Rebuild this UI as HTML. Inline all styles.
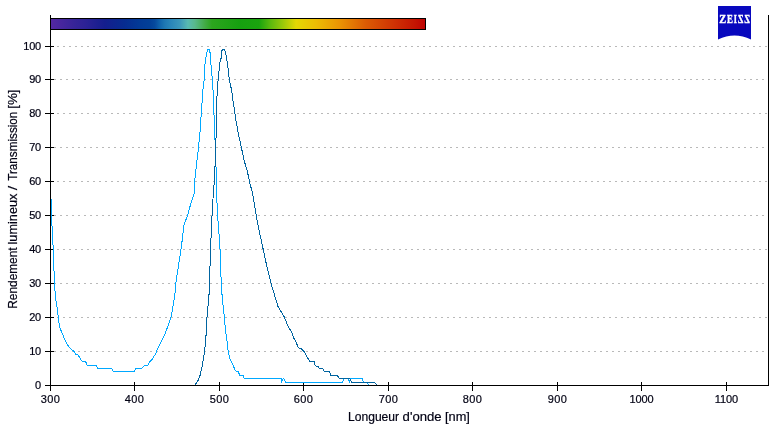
<!DOCTYPE html>
<html><head><meta charset="utf-8"><title>Chart</title>
<style>
html,body{margin:0;padding:0;background:#fff;}
body{width:783px;height:426px;overflow:hidden;position:relative;font-family:"Liberation Sans",sans-serif;}
</style></head><body>
<svg width="783" height="426" viewBox="0 0 783 426" style="position:absolute;left:0;top:0;will-change:transform">
<defs><linearGradient id="sp" x1="0" y1="0" x2="1" y2="0"><stop offset="0.00%" stop-color="rgb(84, 40, 162)"/><stop offset="6.42%" stop-color="rgb(54, 36, 152)"/><stop offset="9.36%" stop-color="rgb(44, 34, 150)"/><stop offset="14.44%" stop-color="rgb(20, 30, 142)"/><stop offset="19.79%" stop-color="rgb(6, 44, 144)"/><stop offset="23.80%" stop-color="rgb(2, 58, 150)"/><stop offset="26.47%" stop-color="rgb(2, 64, 152)"/><stop offset="27.81%" stop-color="rgb(6, 74, 158)"/><stop offset="29.14%" stop-color="rgb(16, 100, 172)"/><stop offset="30.48%" stop-color="rgb(30, 120, 180)"/><stop offset="31.82%" stop-color="rgb(40, 132, 184)"/><stop offset="34.49%" stop-color="rgb(60, 152, 186)"/><stop offset="36.63%" stop-color="rgb(88, 186, 178)"/><stop offset="38.50%" stop-color="rgb(88, 184, 140)"/><stop offset="41.18%" stop-color="rgb(66, 170, 70)"/><stop offset="43.05%" stop-color="rgb(44, 164, 30)"/><stop offset="50.53%" stop-color="rgb(22, 160, 16)"/><stop offset="55.61%" stop-color="rgb(26, 164, 14)"/><stop offset="58.56%" stop-color="rgb(90, 185, 14)"/><stop offset="61.76%" stop-color="rgb(150, 200, 10)"/><stop offset="65.51%" stop-color="rgb(228, 216, 4)"/><stop offset="70.86%" stop-color="rgb(236, 188, 4)"/><stop offset="77.27%" stop-color="rgb(234, 146, 4)"/><stop offset="83.96%" stop-color="rgb(220, 92, 4)"/><stop offset="91.98%" stop-color="rgb(206, 48, 4)"/><stop offset="97.33%" stop-color="rgb(196, 20, 2)"/><stop offset="99.73%" stop-color="rgb(190, 4, 2)"/></linearGradient></defs>
<rect width="783" height="426" fill="#fff"/>
<g stroke="#b9b9b9" stroke-width="1" stroke-dasharray="2 4" shape-rendering="crispEdges"><line x1="57" y1="46.5" x2="768" y2="46.5"/><line x1="54" y1="79.5" x2="768" y2="79.5"/><line x1="57" y1="113.5" x2="768" y2="113.5"/><line x1="54" y1="147.5" x2="768" y2="147.5"/><line x1="57" y1="181.5" x2="768" y2="181.5"/><line x1="54" y1="215.5" x2="768" y2="215.5"/><line x1="57" y1="249.5" x2="768" y2="249.5"/><line x1="54" y1="283.5" x2="768" y2="283.5"/><line x1="57" y1="317.5" x2="768" y2="317.5"/><line x1="54" y1="351.5" x2="768" y2="351.5"/></g>
<rect x="50.5" y="18.5" width="375" height="11" fill="url(#sp)" stroke="#000" stroke-width="1" stroke-linejoin="bevel" shape-rendering="crispEdges"/>
<g stroke="#000" stroke-width="1" shape-rendering="crispEdges"><line x1="50.5" y1="15" x2="50.5" y2="391"/><line x1="768.5" y1="15" x2="768.5" y2="386"/><line x1="45" y1="385.5" x2="769" y2="385.5"/><line x1="45" y1="351.5" x2="54" y2="351.5"/><line x1="45" y1="317.5" x2="54" y2="317.5"/><line x1="45" y1="283.5" x2="54" y2="283.5"/><line x1="45" y1="249.5" x2="54" y2="249.5"/><line x1="45" y1="215.5" x2="54" y2="215.5"/><line x1="45" y1="181.5" x2="54" y2="181.5"/><line x1="45" y1="147.5" x2="54" y2="147.5"/><line x1="45" y1="113.5" x2="54" y2="113.5"/><line x1="45" y1="79.5" x2="54" y2="79.5"/><line x1="45" y1="46.5" x2="54" y2="46.5"/><line x1="134.5" y1="382" x2="134.5" y2="391"/><line x1="219.5" y1="382" x2="219.5" y2="391"/><line x1="303.5" y1="382" x2="303.5" y2="391"/><line x1="388.5" y1="382" x2="388.5" y2="391"/><line x1="472.5" y1="382" x2="472.5" y2="391"/><line x1="557.5" y1="382" x2="557.5" y2="391"/><line x1="641.5" y1="382" x2="641.5" y2="391"/><line x1="726.5" y1="382" x2="726.5" y2="391"/></g>
<polyline points="50.5,199.0 51.5,199.0 51.5,226.0 52.5,226.0 52.5,237.0 53.3,249.4 54.4,283.3 55.8,300.0 56.7,305.0 58.3,317.3 59.4,326.4 61.9,332.8 65.5,341.2 69.3,347.6 74.2,351.5 75.7,354.5 77.8,354.5 80.9,359.6 82.6,361.5 85.6,361.5 87.3,365.5 96.4,365.5 97.9,368.5 111.6,368.5 113.3,371.5 134.2,371.5 135.9,368.5 141.7,368.5 144.6,365.5 147.6,365.5 150.0,361.5 152.3,359.2 155.8,353.4 157.0,349.9 160.5,342.8 165.2,333.4 168.7,324.0 171.1,317.0 173.4,304.0 175.4,290.0 175.8,283.2 178.2,267.5 181.0,249.2 182.6,237.0 183.6,226.4 187.6,215.1 191.4,201.7 194.2,193.5 194.6,181.6 196.3,166.3 198.5,147.6 200.0,132.5 201.0,117.5 201.5,110.0 203.0,89.3 204.2,79.9 205.0,64.6 206.3,54.8 207.5,49.5 209.5,49.5 210.4,54.8 211.2,67.9 212.4,79.9 213.4,95.9 213.8,110.0 214.7,132.5 215.4,147.6 216.0,166.3 216.4,190.0 217.6,215.0 219.2,237.0 220.0,249.0 221.1,279.0 221.6,290.0 222.7,301.7 224.4,317.5 225.4,330.0 227.0,341.3 228.2,351.1 229.6,358.2 232.7,364.5 235.5,370.8 238.3,371.5 239.7,375.5 243.2,375.5 244.2,378.5 280.5,378.5 281.5,378.5 281.5,382.5 282.5,380.0 283.5,378.5 284.5,380.0 285.5,382.5 342.5,382.5 343.6,378.5 348.5,378.5 349.5,382.5 350.7,378.5 362.0,378.5 363.6,382.5 367.0,382.5 368.6,384.9" fill="none" stroke="#00a8ff" stroke-width="1" stroke-linejoin="bevel" shape-rendering="crispEdges"/>
<polyline points="195.0,384.9 198.1,380.4 200.4,374.5 202.8,362.8 204.6,351.5 206.3,332.3 207.0,317.5 208.2,304.0 209.4,290.0 209.6,279.0 210.6,249.0 211.5,225.0 212.7,204.0 213.5,190.0 214.3,181.6 215.1,164.5 215.6,147.6 216.2,134.4 216.4,110.0 217.0,95.9 218.1,79.9 219.6,64.6 220.5,60.0 221.5,57.0 221.5,51.5 222.5,49.5 224.6,49.5 226.0,54.8 227.6,64.6 229.3,79.9 231.8,90.9 233.4,104.0 234.5,110.0 235.7,119.4 238.5,134.4 241.4,147.6 244.2,160.7 247.5,172.0 249.5,181.6 252.8,194.4 256.2,215.5 259.4,232.0 263.2,249.3 266.3,263.8 271.0,283.3 275.0,296.6 278.0,306.5 284.3,317.1 287.9,326.0 292.5,333.5 293.2,337.0 296.0,342.0 298.2,347.6 301.0,348.6 303.8,351.1 307.3,357.5 310.1,361.5 314.1,361.5 315.1,365.5 318.6,366.9 319.3,368.5 322.6,368.5 324.3,371.5 329.6,371.5 330.9,375.5 337.5,375.5 339.2,378.5 349.8,378.5 351.5,382.5 374.8,382.5 376.8,384.9" fill="none" stroke="#0064a0" stroke-width="1" stroke-linejoin="bevel" shape-rendering="crispEdges"/>
<g font-family="Liberation Sans, sans-serif" font-size="11px" fill="#020214" stroke="#020214" stroke-width="0.2"><text x="40.9" y="388.5" text-anchor="end" letter-spacing="-0.25">0</text><text x="40.9" y="354.5" text-anchor="end" letter-spacing="-0.25">10</text><text x="40.9" y="320.5" text-anchor="end" letter-spacing="-0.25">20</text><text x="40.9" y="286.5" text-anchor="end" letter-spacing="-0.25">30</text><text x="40.9" y="252.5" text-anchor="end" letter-spacing="-0.25">40</text><text x="40.9" y="218.5" text-anchor="end" letter-spacing="-0.25">50</text><text x="40.9" y="184.5" text-anchor="end" letter-spacing="-0.25">60</text><text x="40.9" y="150.5" text-anchor="end" letter-spacing="-0.25">70</text><text x="40.9" y="116.5" text-anchor="end" letter-spacing="-0.25">80</text><text x="40.9" y="82.5" text-anchor="end" letter-spacing="-0.25">90</text><text x="40.9" y="49.5" text-anchor="end" letter-spacing="-0.25">100</text><text x="50.5" y="402.5" text-anchor="middle" letter-spacing="0.3">300</text><text x="134.5" y="402.5" text-anchor="middle" letter-spacing="0.3">400</text><text x="219.5" y="402.5" text-anchor="middle" letter-spacing="0.3">500</text><text x="303.5" y="402.5" text-anchor="middle" letter-spacing="0.3">600</text><text x="388.5" y="402.5" text-anchor="middle" letter-spacing="0.3">700</text><text x="472.5" y="402.5" text-anchor="middle" letter-spacing="0.3">800</text><text x="557.5" y="402.5" text-anchor="middle" letter-spacing="0.3">900</text><text x="641.5" y="402.5" text-anchor="middle" letter-spacing="-0.1">1000</text><text x="726.5" y="402.5" text-anchor="middle" letter-spacing="-0.1">1100</text></g>
<g font-family="Liberation Sans, sans-serif" font-size="13px" fill="#020214" stroke="#020214" stroke-width="0.2"><text x="348.00" y="420.8" textLength="51.10" lengthAdjust="spacingAndGlyphs">Longueur</text><text x="402.60" y="420.8" textLength="39.00" lengthAdjust="spacingAndGlyphs">d'onde</text><text x="445.00" y="420.8" textLength="24.90" lengthAdjust="spacingAndGlyphs">[nm]</text></g>
<g transform="translate(16.6,308) rotate(-90)" font-family="Liberation Sans, sans-serif" font-size="13px" fill="#020214" stroke="#020214" stroke-width="0.2"><text x="-0.70" y="0" textLength="61.30" lengthAdjust="spacingAndGlyphs">Rendement</text><text x="63.50" y="0" textLength="50.90" lengthAdjust="spacingAndGlyphs">lumineux</text><text x="117.70" y="0" textLength="4.40" lengthAdjust="spacingAndGlyphs">/</text><text x="127.20" y="0" textLength="69.20" lengthAdjust="spacingAndGlyphs">Transmission</text><text x="199.30" y="0" textLength="19.30" lengthAdjust="spacingAndGlyphs">[%]</text></g>
<path d="M718,6 H751 V39.5 Q734.5,31.7 718,39.5 Z" fill="#0808be"/>
<g font-family="Liberation Serif, serif" font-weight="bold" font-size="12px" fill="#fff" stroke="#fff" stroke-width="0.45"><text x="719.2" y="23.1" textLength="6.9" lengthAdjust="spacingAndGlyphs">Z</text><text x="727.0" y="23.1" textLength="5.9" lengthAdjust="spacingAndGlyphs">E</text><text x="733.8" y="23.1" textLength="3.1" lengthAdjust="spacingAndGlyphs">I</text><text transform="translate(743.6,23.1) scale(-1,1)" x="0" y="0" textLength="5.8" lengthAdjust="spacingAndGlyphs">Z</text><text transform="translate(750.0,23.1) scale(-1,1)" x="0" y="0" textLength="5.8" lengthAdjust="spacingAndGlyphs">Z</text></g>
</svg>
</body></html>
